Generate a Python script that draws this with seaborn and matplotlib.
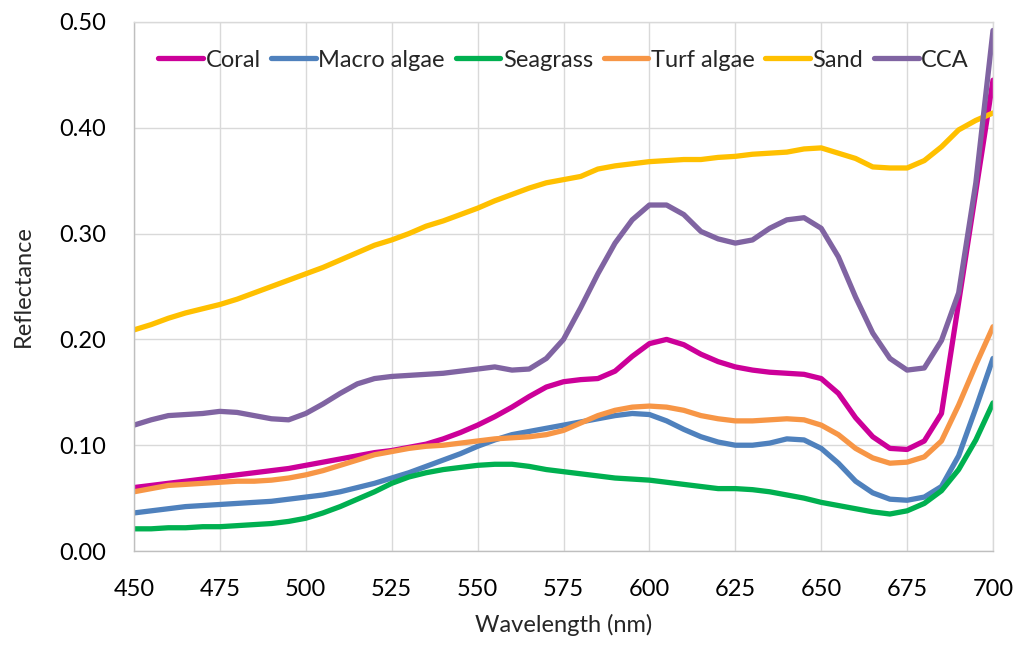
import matplotlib

matplotlib.use("Agg")
import matplotlib.pyplot as plt
import numpy as np
import pandas as pd
import seaborn as sns

# Reflectance spectra, 5 nm steps.
wavelength = list(range(450, 701, 5))

coral = [0.060, 0.062, 0.064, 0.066, 0.068, 0.070, 0.072, 0.074, 0.076, 0.078,
         0.081, 0.084, 0.087, 0.090, 0.093, 0.095, 0.098, 0.101, 0.106, 0.112,
         0.119, 0.127, 0.136, 0.146, 0.155, 0.160, 0.162, 0.163, 0.170, 0.184,
         0.196, 0.200, 0.195, 0.186, 0.179, 0.174, 0.171, 0.169, 0.168, 0.167,
         0.163, 0.149, 0.126, 0.108, 0.097, 0.096, 0.104, 0.130, 0.235, 0.340,
         0.445]
macro_algae = [0.036, 0.038, 0.040, 0.042, 0.043, 0.044, 0.045, 0.046, 0.047, 0.049,
               0.051, 0.053, 0.056, 0.060, 0.064, 0.069, 0.074, 0.080, 0.086, 0.092,
               0.099, 0.105, 0.110, 0.113, 0.116, 0.119, 0.122, 0.125, 0.128, 0.130,
               0.129, 0.123, 0.115, 0.108, 0.103, 0.100, 0.100, 0.102, 0.106, 0.105,
               0.097, 0.083, 0.066, 0.055, 0.049, 0.048, 0.051, 0.061, 0.090, 0.135,
               0.182]
seagrass = [0.021, 0.021, 0.022, 0.022, 0.023, 0.023, 0.024, 0.025, 0.026, 0.028,
            0.031, 0.036, 0.042, 0.049, 0.056, 0.064, 0.070, 0.074, 0.077, 0.079,
            0.081, 0.082, 0.082, 0.080, 0.077, 0.075, 0.073, 0.071, 0.069, 0.068,
            0.067, 0.065, 0.063, 0.061, 0.059, 0.059, 0.058, 0.056, 0.053, 0.050,
            0.046, 0.043, 0.040, 0.037, 0.035, 0.038, 0.045, 0.057, 0.077, 0.105,
            0.140]
turf_algae = [0.056, 0.059, 0.062, 0.063, 0.064, 0.065, 0.066, 0.066, 0.067, 0.069,
              0.072, 0.076, 0.081, 0.086, 0.091, 0.094, 0.097, 0.099, 0.100, 0.102,
              0.104, 0.106, 0.107, 0.108, 0.110, 0.114, 0.121, 0.128, 0.133, 0.136,
              0.137, 0.136, 0.133, 0.128, 0.125, 0.123, 0.123, 0.124, 0.125, 0.124,
              0.119, 0.110, 0.097, 0.088, 0.083, 0.084, 0.089, 0.104, 0.138, 0.176,
              0.212]
sand = [0.209, 0.214, 0.220, 0.225, 0.229, 0.233, 0.238, 0.244, 0.250, 0.256,
        0.262, 0.268, 0.275, 0.282, 0.289, 0.294, 0.300, 0.307, 0.312, 0.318,
        0.324, 0.331, 0.337, 0.343, 0.348, 0.351, 0.354, 0.361, 0.364, 0.366,
        0.368, 0.369, 0.370, 0.370, 0.372, 0.373, 0.375, 0.376, 0.377, 0.380,
        0.381, 0.376, 0.371, 0.363, 0.362, 0.362, 0.369, 0.382, 0.398, 0.407,
        0.414]
cca = [0.119, 0.124, 0.128, 0.129, 0.130, 0.132, 0.131, 0.128, 0.125, 0.124,
       0.130, 0.139, 0.149, 0.158, 0.163, 0.165, 0.166, 0.167, 0.168, 0.170,
       0.172, 0.174, 0.171, 0.172, 0.182, 0.200, 0.230, 0.262, 0.291, 0.313,
       0.327, 0.327, 0.318, 0.302, 0.295, 0.291, 0.294, 0.305, 0.313, 0.315,
       0.305, 0.278, 0.240, 0.206, 0.182, 0.171, 0.173, 0.199, 0.244, 0.348,
       0.492]

series_names = ["Coral", "Macro algae", "Seagrass", "Turf algae", "Sand", "CCA"]
series_values = [coral, macro_algae, seagrass, turf_algae, sand, cca]
colors = ["#CC0099", "#4F81BD", "#00B050", "#F79646", "#FFC000", "#8064A2"]

y_ticks = [0.0, 0.1, 0.2, 0.3, 0.4, 0.5]
x_ticks = list(range(450, 701, 25))

frames = [
    pd.DataFrame({"Wavelength": wavelength, "Reflectance": vals, "Type": name})
    for name, vals in zip(series_names, series_values)
]
df = pd.concat(frames, ignore_index=True)

sns.set_theme(style="whitegrid")
plt.rcParams["font.family"] = ["Lato", "DejaVu Sans"]

fig, ax = plt.subplots(figsize=(10.19, 6.46), dpi=100)
fig.subplots_adjust(left=0.1315, right=0.9745, top=0.966, bottom=0.147)

sns.lineplot(
    data=df,
    x="Wavelength",
    y="Reflectance",
    hue="Type",
    hue_order=series_names,
    palette=colors,
    linewidth=3.8,
    ax=ax,
)

ax.set_xlim(450, 700)
ax.set_ylim(0, 0.5)
ax.set_xticks(x_ticks)
ax.set_yticks(y_ticks)
ax.set_yticklabels([f"{v:.2f}" for v in y_ticks])
ax.tick_params(axis="both", length=0, labelsize=17, colors="black")
ax.tick_params(axis="y", pad=20)
ax.tick_params(axis="x", pad=20)
ax.grid(True, color="#D9D9D9", linewidth=1)
for side, spine in ax.spines.items():
    spine.set_color("#D9D9D9")
    spine.set_linewidth(1)
ax.spines["left"].set_color("#BFBFBF")
ax.spines["bottom"].set_color("#BFBFBF")

ax.set_xlabel("Wavelength (nm)", fontsize=17, labelpad=10)
ax.set_ylabel("Reflectance", fontsize=17, labelpad=18)

handles, labels = ax.get_legend_handles_labels()
ax.legend(
    handles,
    labels,
    loc="center",
    bbox_to_anchor=(0.5, 0.928),
    ncol=6,
    frameon=False,
    fontsize=17,
    handlelength=1.9,
    handletextpad=0.1,
    columnspacing=0.45,
    borderaxespad=0,
)

plt.savefig("out.png", dpi=100)
plt.close()
